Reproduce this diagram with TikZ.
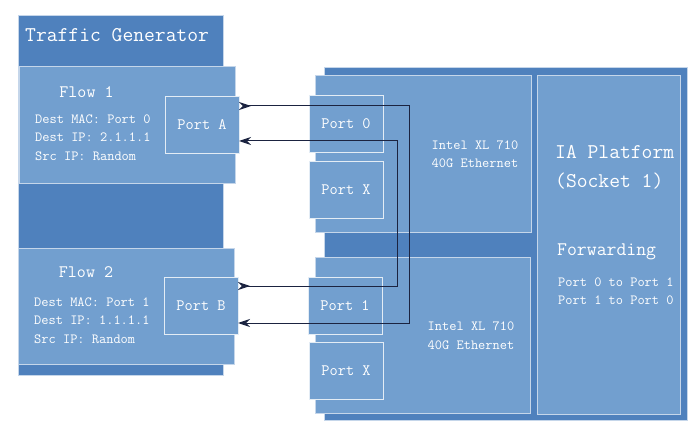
\documentclass[tikz,border=0pt]{standalone}
\usepackage{fontspec}
\usetikzlibrary{arrows.meta,calc}
\definecolor{darkpanel}{HTML}{4F81BD}
\definecolor{lightpanel}{HTML}{729FCF}
\definecolor{edgeline}{HTML}{C5D6EA}
\definecolor{wirecol}{HTML}{1B2340}
\tikzset{
 panel/.style={draw=edgeline,line width=0.8pt,inner sep=0pt,outer sep=0pt},
 portbox/.style={panel,fill=lightpanel,draw=white!80!lightpanel,minimum width=74pt,minimum height=57pt,
  font=\ttfamily\fontsize{15.9}{18}\selectfont},
 bigtext/.style={font=\ttfamily\fontsize{21}{29}\selectfont,align=left},
 headtext/.style={font=\ttfamily\fontsize{17.5}{20}\selectfont},
 smalltext/.style={font=\ttfamily\fontsize{14}{18.5}\selectfont,align=left},
 wire/.style={draw=wirecol,line width=1pt,
  {Stealth[reversed,length=12pt,width=8pt,inset=4pt]}-{Stealth[length=12pt,width=8pt,inset=4pt]}}
}
\newcommand{\boxpanel}[5]{%
 \node[panel,fill=#5,minimum width=#3,minimum height=#4] ({#1}) at ({#2}) {};%
}
\newcommand{\portnode}[3]{%
 \node[portbox] ({#1}) at ({#2}) {#3};%
}

\begin{document}
\begin{tikzpicture}[x=1pt,y=-1pt,every node/.style={text=white,inner sep=0pt}]
  \useasboundingbox (0,0) rectangle (697,433);
  % traffic generator
  \boxpanel{tg}{120.5,195}{205pt}{360pt}{darkpanel};
  \node[bigtext,anchor=west] (tgtitle) at (25,35) {Traffic Generator};
  \boxpanel{flowA}{127,124.5}{216pt}{117pt}{lightpanel};
  \boxpanel{flowB}{126,306}{216pt}{116pt}{lightpanel};
  \portnode{portA}{202,124.5}{Port A};
  \portnode{portB}{201,306}{Port B};
  \node[headtext] (flowAtitle) at (86.5,92) {Flow 1};
  \node[headtext] (flowBtitle) at (86,272) {Flow 2};
  \node[smalltext,anchor=west] (flowArule) at (35,137.5) {Dest MAC: Port 0\\Dest IP: 2.1.1.1\\Src IP: Random};
  \node[smalltext,anchor=west] (flowBrule) at (34,320.5) {Dest MAC: Port 1\\Dest IP: 1.1.1.1\\Src IP: Random};
  % platform
  \boxpanel{ia}{505.5,243.5}{363pt}{353pt}{darkpanel};
  \boxpanel{nicA}{423,153.5}{216pt}{157pt}{lightpanel};
  \boxpanel{nicB}{422.5,335}{215pt}{156pt}{lightpanel};
  \boxpanel{cpu}{608.5,244.5}{143pt}{339pt}{lightpanel};
  \portnode{port0}{346,124}{Port 0};
  \portnode{portXa}{346,189.5}{Port X};
  \portnode{port1}{345,306}{Port 1};
  \portnode{portXb}{346,371}{Port X};
  \node[smalltext,align=center] (nicAtext) at (475,154) {Intel XL 710\\40G Ethernet};
  \node[smalltext,align=center] (nicBtext) at (471,335.5) {Intel XL 710\\40G Ethernet};
  \node[bigtext,anchor=west] (cputitle) at (555,167.5) {IA Platform\\(Socket 1)};
  \node[font=\ttfamily\fontsize{19.2}{22}\selectfont,anchor=west] (fwdtitle) at (557,252) {Forwarding};
  \node[smalltext,anchor=west] (fwdrule) at (558,291) {Port 0 to Port 1\\Port 1 to Port 0};
  % links
  \coordinate (outerx) at (409,0);
  \coordinate (innerx) at (397,0);
  \coordinate (a1) at ($(portA.east)+(0,-18.5)$);
  \coordinate (a2) at ($(portA.east)+(0,16.5)$);
  \coordinate (b1) at ($(portB.east)+(0,-20)$);
  \coordinate (b2) at ($(portB.east)+(0,17)$);
  \draw[wire] (a1) -- (a1 -| outerx) -- (b2 -| outerx) -- (b2);
  \draw[wire] (b1) -- (b1 -| innerx) -- (a2 -| innerx) -- (a2);
\end{tikzpicture}
\end{document}
